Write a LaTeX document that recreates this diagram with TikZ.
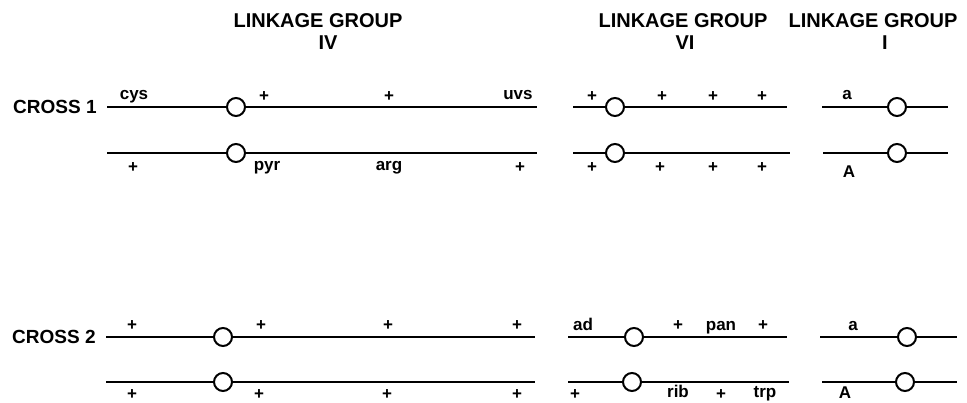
\documentclass[tikz,border=0pt]{standalone}
\usepackage{fontspec}
\setmainfont{Liberation Sans}
\begin{document}
\begin{tikzpicture}[x=1pt,y=-1pt,
  chrom/.style={line width=2.2pt},
  cen/.style={circle,draw,fill=white,line width=2pt,minimum size=18pt,inner sep=0pt},
  grouptitle/.style={font=\fontsize{20}{22}\selectfont\bfseries,anchor=base,inner sep=0pt},
  crosslab/.style={font=\fontsize{19}{22}\selectfont\bfseries,anchor=base west,inner sep=0pt},
  gene/.style={font=\fontsize{17}{20}\selectfont\bfseries,anchor=base,inner sep=0pt},
  plus/.style={font=\fontsize{17}{18}\selectfont\bfseries,inner sep=0pt},
]
\useasboundingbox (0,0) rectangle (967,403);

% titles
\node[grouptitle] (t4a) at (318,28) {LINKAGE GROUP};
\node[grouptitle] (t4b) at (328,50) {IV};
\node[grouptitle] (t6a) at (683,28) {LINKAGE GROUP};
\node[grouptitle] (t6b) at (685,50) {VI};
\node[grouptitle] (t1a) at (873,28) {LINKAGE GROUP};
\node[grouptitle] (t1b) at (885,50) {I};

% cross labels
\node[crosslab] (x1) at (13,114) {CROSS 1};
\node[crosslab] (x2) at (12,344) {CROSS 2};

% ---------- CROSS 1 ----------
% group IV
\coordinate (a1ts) at (107,107); \node[cen] (a1tc) at (236,107) {}; \coordinate (a1te) at (537,107);
\coordinate (a1bs) at (107,153); \node[cen] (a1bc) at (236,153) {}; \coordinate (a1be) at (537,153);
\draw[chrom] (a1ts) -- (a1tc) -- (a1te);
\draw[chrom] (a1bs) -- (a1bc) -- (a1be);
% group VI
\coordinate (b1ts) at (573,107); \node[cen] (b1tc) at (615,107) {}; \coordinate (b1te) at (787,107);
\coordinate (b1bs) at (573,153); \node[cen] (b1bc) at (615,153) {}; \coordinate (b1be) at (790,153);
\draw[chrom] (b1ts) -- (b1tc) -- (b1te);
\draw[chrom] (b1bs) -- (b1bc) -- (b1be);
% group I
\coordinate (c1ts) at (822,107); \node[cen] (c1tc) at (897,107) {}; \coordinate (c1te) at (948,107);
\coordinate (c1bs) at (823,153); \node[cen] (c1bc) at (897,153) {}; \coordinate (c1be) at (948,153);
\draw[chrom] (c1ts) -- (c1tc) -- (c1te);
\draw[chrom] (c1bs) -- (c1bc) -- (c1be);

% labels cross 1
\node[gene] (g1) at (134,100) {cys};
\node[plus] (p1) at (264,96.5) {+};
\node[plus] (p2) at (389,96.5) {+};
\node[gene] (g2) at (518,100) {uvs};
\node[plus] (p3) at (133,167.5) {+};
\node[gene] (g3) at (267,171) {pyr};
\node[gene] (g4) at (389,171) {arg};
\node[plus] (p4) at (520,168) {+};
\node[plus] (p5) at (592,96.5) {+};
\node[plus] (p6) at (662,96.5) {+};
\node[plus] (p7) at (713,96.5) {+};
\node[plus] (p8) at (762,96.5) {+};
\node[plus] (p9) at (592,167.5) {+};
\node[plus] (p10) at (660,167.5) {+};
\node[plus] (p11) at (713,167.5) {+};
\node[plus] (p12) at (762,167.5) {+};
\node[gene] (g5) at (847,100) {a};
\node[gene] (g6) at (849,178) {A};

% ---------- CROSS 2 ----------
% group IV
\coordinate (a2ts) at (106,337); \node[cen] (a2tc) at (223,337) {}; \coordinate (a2te) at (535,337);
\coordinate (a2bs) at (106,382); \node[cen] (a2bc) at (223,382) {}; \coordinate (a2be) at (535,382);
\draw[chrom] (a2ts) -- (a2tc) -- (a2te);
\draw[chrom] (a2bs) -- (a2bc) -- (a2be);
% group VI
\coordinate (b2ts) at (568,337); \node[cen] (b2tc) at (634,337) {}; \coordinate (b2te) at (787,337);
\coordinate (b2bs) at (568,382); \node[cen] (b2bc) at (632,382) {}; \coordinate (b2be) at (789,382);
\draw[chrom] (b2ts) -- (b2tc) -- (b2te);
\draw[chrom] (b2bs) -- (b2bc) -- (b2be);
% group I
\coordinate (c2ts) at (820,337); \node[cen] (c2tc) at (907,337) {}; \coordinate (c2te) at (957,337);
\coordinate (c2bs) at (822,382); \node[cen] (c2bc) at (905,382) {}; \coordinate (c2be) at (957,382);
\draw[chrom] (c2ts) -- (c2tc) -- (c2te);
\draw[chrom] (c2bs) -- (c2bc) -- (c2be);

% labels cross 2
\node[plus] (q1) at (132,326) {+};
\node[plus] (q2) at (261,326) {+};
\node[plus] (q3) at (388,326) {+};
\node[plus] (q4) at (517,326) {+};
\node[plus] (q5) at (132,394.5) {+};
\node[plus] (q6) at (259,394.5) {+};
\node[plus] (q7) at (387,394.5) {+};
\node[plus] (q8) at (517,394.5) {+};
\node[gene] (h1) at (583,331) {ad};
\node[plus] (q9) at (678,326) {+};
\node[gene] (h2) at (721,331) {pan};
\node[plus] (q10) at (763,326) {+};
\node[plus] (q11) at (575,394.5) {+};
\node[gene] (h3) at (678,398) {rib};
\node[plus] (q12) at (721,394.5) {+};
\node[gene] (h4) at (765,398) {trp};
\node[gene] (h5) at (853,331) {a};
\node[gene] (h6) at (845,399) {A};
\end{tikzpicture}
\end{document}
